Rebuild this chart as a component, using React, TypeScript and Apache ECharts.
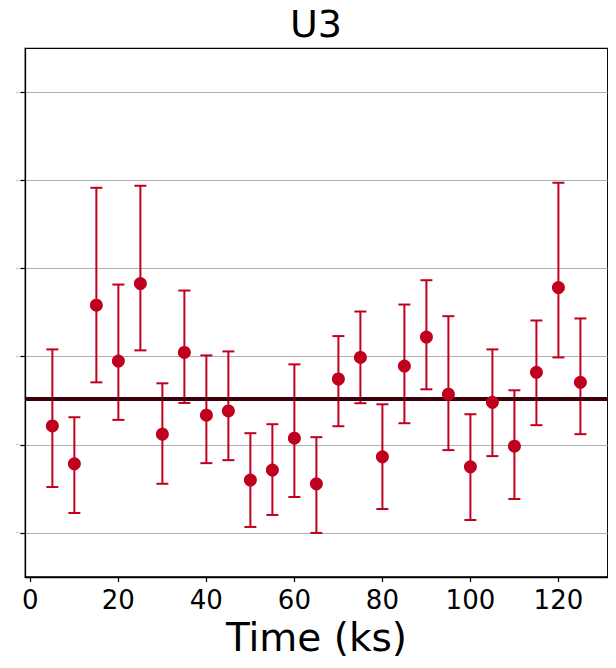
import React, { useEffect, useRef } from "react";
import * as echarts from "echarts";

const times = [5, 10, 15, 20, 25, 30, 35, 40, 45, 50, 55, 60, 65, 70, 75, 80, 85, 90, 95, 100, 105, 110, 115, 120, 125];
const values = [2.215, 1.785, 3.585, 2.951, 3.83, 2.121, 3.049, 2.336, 2.385, 1.6, 1.713, 2.075, 1.558, 2.747, 2.992, 1.864, 2.894, 3.223, 2.574, 1.751, 2.483, 1.985, 2.823, 3.785, 2.709];
const upper = [3.083, 2.313, 4.917, 3.819, 4.94, 2.698, 3.751, 3.015, 3.06, 2.132, 2.234, 2.913, 2.087, 3.234, 3.513, 2.46, 3.592, 3.868, 3.46, 2.347, 3.083, 2.619, 3.411, 4.974, 3.434];
const lower = [1.521, 1.226, 2.709, 2.283, 3.072, 1.558, 2.475, 1.792, 1.826, 1.068, 1.204, 1.408, 1.0, 2.211, 2.472, 1.272, 2.245, 2.63, 1.94, 1.147, 1.872, 1.385, 2.223, 2.992, 2.121];
const meanLevel = 2.521;
const yTicks = [1, 2, 3, 4, 5, 6];
const xTicks = [0, 20, 40, 60, 80, 100, 120];

const RED = "#c0001f";

export default function App() {
  const ref = useRef<HTMLDivElement>(null);
  useEffect(() => {
    if (!ref.current) return;
    const chart = echarts.init(ref.current, undefined, { renderer: "svg" });
    const errData = times.map((t, i) => [t, lower[i], upper[i]]);
    const pts = times.map((t, i) => [t, values[i]]);
    chart.setOption({
      animation: false,
      textStyle: { fontFamily: "DejaVu Sans" },
      title: {
        text: "U3",
        left: 316,
        textAlign: "center",
        top: 5,
        padding: 0,
        textStyle: { fontSize: 38, lineHeight: 38, fontWeight: "normal", color: "#000", fontFamily: "DejaVu Sans" },
      },
      grid: {
        left: 25.3,
        right: 8.3,
        top: 48.3,
        bottom: 91,
        show: true,
        borderColor: "#000",
        borderWidth: 1.3,
        backgroundColor: "transparent",
      },
      xAxis: {
        type: "value",
        min: -1.15,
        max: 131.2,
        name: "Time (ks)",
        nameLocation: "middle",
        nameGap: 34,
        nameTextStyle: { fontSize: 39, color: "#000", fontFamily: "DejaVu Sans" },
        axisLine: { show: true, onZero: false, lineStyle: { color: "#000", width: 1.3 } },
        axisTick: { show: true, customValues: xTicks, length: 5, lineStyle: { color: "#000", width: 1.2 } },
        axisLabel: {
          customValues: xTicks,
          fontSize: 26,
          color: "#000",
          margin: 10,
          fontFamily: "DejaVu Sans",
        },
        splitLine: { show: false },
      },
      yAxis: {
        type: "value",
        min: 0.5,
        max: 6.5,
        axisLine: { show: true, onZero: false, lineStyle: { color: "#000", width: 1.3 } },
        axisTick: { show: true, customValues: yTicks, length: 5, lineStyle: { color: "#000", width: 1.2 } },
        axisLabel: {
          customValues: yTicks,
          formatter: () => "–",
          fontSize: 8,
          color: "#aaaaaa",
          margin: 6,
        },
        splitLine: { show: true, lineStyle: { color: "#b0b0b0", width: 1 } },
      },
      series: [
        {
          type: "custom",
          data: errData,
          z: 2,
          renderItem: (params: any, api: any) => {
            const x = api.value(0);
            const lo = api.coord([x, api.value(1)]);
            const hi = api.coord([x, api.value(2)]);
            const cap = 6;
            const style = { stroke: RED, lineWidth: 2 };
            return {
              type: "group",
              children: [
                { type: "line", shape: { x1: lo[0], y1: lo[1], x2: hi[0], y2: hi[1] }, style },
                { type: "line", shape: { x1: lo[0] - cap, y1: lo[1], x2: lo[0] + cap, y2: lo[1] }, style },
                { type: "line", shape: { x1: hi[0] - cap, y1: hi[1], x2: hi[0] + cap, y2: hi[1] }, style },
              ],
            };
          },
        },
        {
          type: "scatter",
          data: pts,
          symbol: "circle",
          symbolSize: 13,
          z: 4,
          itemStyle: { color: RED, opacity: 1 },
          markLine: {
            silent: true,
            symbol: "none",
            label: { show: false },
            z: 3,
            lineStyle: { color: "#3d0008", width: 4, type: "solid" },
            data: [{ yAxis: meanLevel }],
          },
        },
      ],
    });
    return () => chart.dispose();
  }, []);
  return <div ref={ref} style={{ width: 616, height: 668, margin: "-8px 0 0 -8px" }} />;
}
